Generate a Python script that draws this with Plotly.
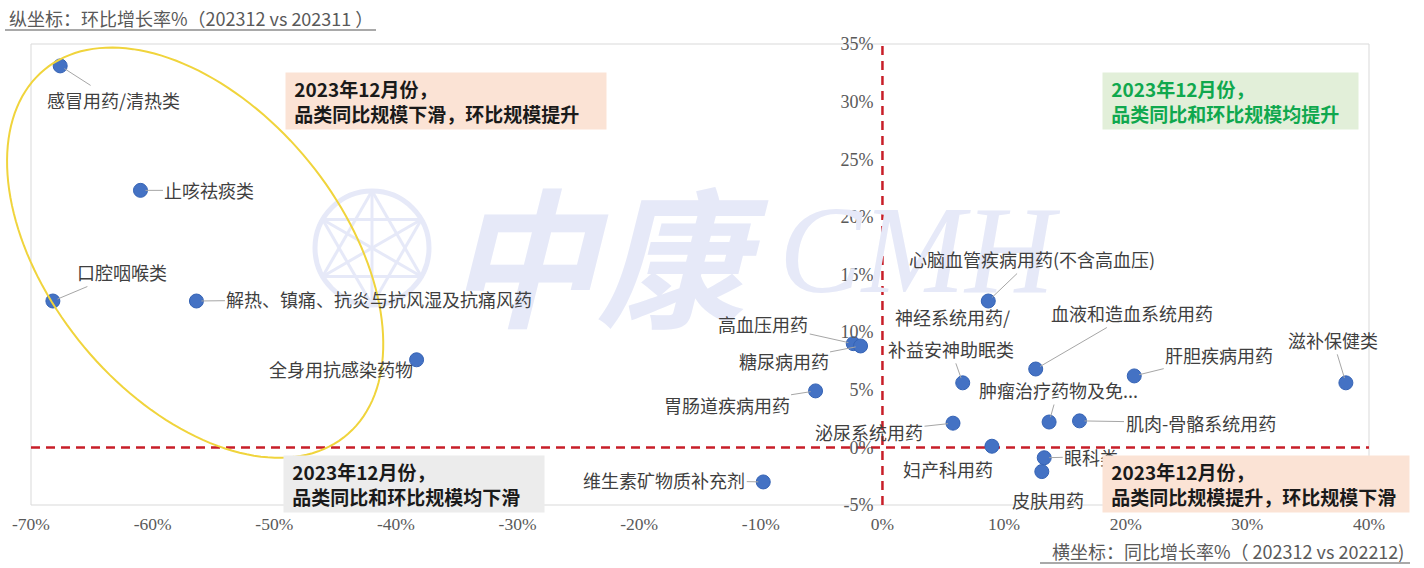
import numpy as np
import plotly.graph_objects as go

# 品类：同比增长率（x）与环比增长率（y），单位 %
categories = [
    "感冒用药/清热类", "止咳祛痰类", "口腔咽喉类", "解热、镇痛、抗炎与抗风湿及抗痛风药", "全身用抗感染药物",
    "维生素矿物质补充剂", "胃肠道疾病用药", "高血压用药", "糖尿病用药", "心脑血管疾病用药(不含高血压)",
    "神经系统用药/补益安神助眠类", "泌尿系统用药", "妇产科用药", "血液和造血系统用药", "肿瘤治疗药物及免...",
    "肌肉-骨骼系统用药", "眼科类", "皮肤用药", "肝胆疾病用药", "滋补保健类",
]
yoy_growth = [-67.6, -61.0, -68.2, -56.4, -38.3, -9.8, -5.5, -2.4, -1.8, 8.7,
              6.6, 5.8, 9.0, 12.6, 13.7, 16.2, 13.3, 13.1, 20.7, 38.1]
mom_growth = [33.1, 22.3, 12.7, 12.7, 7.6, -3.0, 4.9, 9.0, 8.8, 12.7,
              5.6, 2.1, 0.1, 6.8, 2.2, 2.3, -0.9, -2.1, 6.2, 5.6]

x_ticks = list(range(-70, 41, 10))
y_ticks = list(range(-5, 36, 5))

# 标签相对数据点的像素偏移 (ax, ay, 是否画引线)
label_offsets = {
    "感冒用药/清热类": (53, 34, True),
    "止咳祛痰类": (69, 0, True),
    "口腔咽喉类": (69, -29, True),
    "解热、镇痛、抗炎与抗风湿及抗痛风药": (183, -2, True),
    "全身用抗感染药物": (-76, 9, False),
    "维生素矿物质补充剂": (-99, -2, True),
    "胃肠道疾病用药": (-89, 14, True),
    "高血压用药": (-90, -20, True),
    "糖尿病用药": (-77, 15, True),
    "心脑血管疾病用药(不含高血压)": (44, -42, True),
    "泌尿系统用药": (-84, 9, True),
    "妇产科用药": (-44, 23, False),
    "血液和造血系统用药": (96, -56, True),
    "肿瘤治疗药物及免...": (9, -32, True),
    "肌肉-骨骼系统用药": (121, 2, True),
    "眼科类": (47, -1, True),
    "皮肤用药": (6, 28, False),
    "肝胆疾病用药": (85, -21, True),
    "滋补保健类": (-13, -43, True),
}

W, H = 1424, 568
ML, MR, MT, MB = 31, 55, 44, 63
PW, PH = W - ML - MR, H - MT - MB
X_RANGE = (-70, 40)
Y_RANGE = (-5, 35)


def px2x(p):
    return X_RANGE[0] + (p - ML) / PW * (X_RANGE[1] - X_RANGE[0])


def py2y(p):
    return Y_RANGE[1] - (p - MT) / PH * (Y_RANGE[1] - Y_RANGE[0])


def px2paper(p):
    return (p - ML) / PW


def py2paper(p):
    return 1 - (p - MT) / PH


def ellipse_through(points, n=160):
    """Fit a conic through pixel points and return the outline of the ellipse."""
    pts = np.asarray(points, dtype=float)
    c0 = pts.mean(axis=0)
    s = 100.0
    u, v = (pts[:, 0] - c0[0]) / s, (pts[:, 1] - c0[1]) / s
    A_mat = np.column_stack([u * u, u * v, v * v, u, v])
    a, b, c, d, e = np.linalg.lstsq(A_mat, np.ones(len(u)), rcond=None)[0]
    M = np.array([[a, b / 2], [b / 2, c]])
    ctr = np.linalg.solve(2 * M, [-d, -e])
    f = ctr @ M @ ctr + d * ctr[0] + e * ctr[1] - 1
    w, V = np.linalg.eigh(M / -f)
    t = np.linspace(0, 2 * np.pi, n)
    circ = np.vstack([np.cos(t) / np.sqrt(w[0]), np.sin(t) / np.sqrt(w[1])])
    out = V @ circ + ctr[:, None]
    return out[0] * s + c0[0], out[1] * s + c0[1]


CJK = "Noto Sans CJK SC"
SERIF = "Liberation Serif"
LABEL_COLOR = "#3f3f3f"
WM_COLOR = "#e6e9f8"
NB = "\u00a0"

fig = go.Figure()

fig.add_trace(go.Scatter(
    x=yoy_growth, y=mom_growth, mode="markers",
    marker=dict(size=14, color="#4472c4", line=dict(width=1, color="#3563b5")),
    text=categories, hoverinfo="text+x+y",
))

shapes = []
annotations = []

# 绘图区浅灰边框
shapes.append(dict(type="rect", xref="paper", yref="paper", x0=0, x1=1, y0=0, y1=1,
                   line=dict(color="#d9d9d9", width=1), layer="below"))

# 水印：圆形标志
cx, cy, r = 372, 248, 57
shapes.append(dict(type="circle", xref="x", yref="y",
                   x0=px2x(cx - r), x1=px2x(cx + r), y0=py2y(cy + r), y1=py2y(cy - r),
                   line=dict(color=WM_COLOR, width=5), layer="below"))
rim = [(cx + r * np.cos(np.radians(90 + 60 * k)), cy - r * np.sin(np.radians(90 + 60 * k))) for k in range(6)]
for k in range(6):
    for j in (k + 2, k + 3):
        if j == k + 3 and k >= 3:
            continue
        p0, p1 = rim[k], rim[j % 6]
        shapes.append(dict(type="line", xref="x", yref="y",
                           x0=px2x(p0[0]), y0=py2y(p0[1]), x1=px2x(p1[0]), y1=py2y(p1[1]),
                           line=dict(color=WM_COLOR, width=3), layer="below"))

# 黄色椭圆圈出感冒季相关品类（paper 坐标，可超出绘图区）
ring_px = [(107, 45), (60, 65), (6, 190), (53, 300), (296, 458), (385, 340), (378, 300), (378, 373)]
ex, ey = ellipse_through(ring_px)
path = "M " + " L ".join(f"{px2paper(a):.5f},{py2paper(b):.5f}" for a, b in zip(ex, ey)) + " Z"
shapes.append(dict(type="path", xref="paper", yref="paper", path=path,
                   line=dict(color="#f0d43c", width=2), layer="above"))

# 红色虚线分隔四个象限
shapes.append(dict(type="line", xref="x", yref="y", x0=X_RANGE[0], x1=X_RANGE[1], y0=0, y1=0,
                   line=dict(color="#c81e28", width=2.5, dash="9px,6px"), layer="below"))
shapes.append(dict(type="line", xref="x", yref="y", x0=0, x1=0, y0=Y_RANGE[0], y1=Y_RANGE[1],
                   line=dict(color="#c81e28", width=2.5, dash="9px,6px"), layer="below"))

# 水印文字
annotations.append(dict(xref="paper", yref="paper", x=px2paper(607), y=py2paper(250),
                        text="中康", showarrow=False, xanchor="center", yanchor="middle",
                        font=dict(family=CJK, size=150, color=WM_COLOR, weight="bold", style="italic")))
annotations.append(dict(xref="paper", yref="paper", x=px2paper(920), y=py2paper(250),
                        text="CMH", showarrow=False, xanchor="center", yanchor="middle",
                        font=dict(family=SERIF, size=124, color=WM_COLOR, style="italic")))

# 数据点标签
LABEL_FONT = dict(family=CJK, size=18, color=LABEL_COLOR)
for name, xv, yv in zip(categories, yoy_growth, mom_growth):
    if name == "神经系统用药/补益安神助眠类":
        annotations.append(dict(x=xv, y=yv, text="神经系统用药/", showarrow=True, ax=-10, ay=-66,
                                arrowcolor="rgba(0,0,0,0)", arrowwidth=1, arrowhead=0,
                                font=LABEL_FONT))
        annotations.append(dict(x=xv, y=yv, text="补益安神助眠类", showarrow=True, ax=-12, ay=-34,
                                arrowcolor="#a6a6a6", arrowwidth=1, arrowhead=0, standoff=5,
                                font=LABEL_FONT))
        continue
    ax, ay, lead = label_offsets[name]
    annotations.append(dict(x=xv, y=yv, text=name, showarrow=True, ax=ax, ay=ay,
                            arrowcolor="#a6a6a6" if lead else "rgba(0,0,0,0)",
                            arrowwidth=1, arrowhead=0, standoff=5, font=LABEL_FONT))

# 象限说明框
boxes = [
    (285, 72, 312, "2023年12月份，", "品类同比规模下滑，环比规模提升", "#fbe3d5", "#1a1a1a"),
    (1102, 72, 247, "2023年12月份，", "品类同比和环比规模均提升", "#e2efd9", "#10a84e"),
    (283, 455, 252, "2023年12月份，", "品类同比和环比规模均下滑", "#ececec", "#1a1a1a"),
    (1102, 455, 298, "2023年12月份，", "品类同比规模提升，环比规模下滑", "#fbe3d5", "#1a1a1a"),
]
for left, top, width, line1, line2, bg, fc in boxes:
    annotations.append(dict(xref="paper", yref="paper", x=px2paper(left), y=py2paper(top),
                            xanchor="left", yanchor="top",
                            text=f"<b>{NB}{line1}<br>{NB}{line2}</b>", showarrow=False,
                            align="left", width=width, height=48, borderpad=4, bgcolor=bg,
                            font=dict(family=CJK, size=19, color=fc)))

# 坐标轴说明
annotations.append(dict(xref="paper", yref="paper", x=px2paper(7), y=py2paper(18),
                        xanchor="left", yanchor="middle", showarrow=False,
                        text="纵坐标：环比增长率%（202312 vs 202311 ）",
                        font=dict(family=CJK, size=18, color="#595959")))
annotations.append(dict(xref="paper", yref="paper", x=px2paper(1406), y=py2paper(551),
                        xanchor="right", yanchor="middle", showarrow=False,
                        text="横坐标：同比增长率%（ 202312 vs 202212)",
                        font=dict(family=CJK, size=18, color="#595959")))
shapes.append(dict(type="line", xref="paper", yref="paper", x0=px2paper(5), x1=px2paper(376),
                   y0=py2paper(30), y1=py2paper(30), line=dict(color="#8c8c8c", width=1.5)))
shapes.append(dict(type="line", xref="paper", yref="paper", x0=px2paper(1040), x1=px2paper(1410),
                   y0=py2paper(563), y1=py2paper(563), line=dict(color="#8c8c8c", width=1.5)))

fig.update_layout(
    width=W, height=H,
    margin=dict(l=ML, r=MR, t=MT, b=MB, autoexpand=False),
    plot_bgcolor="white", paper_bgcolor="white",
    showlegend=False,
    shapes=shapes, annotations=annotations,
    xaxis=dict(range=list(X_RANGE), tickvals=x_ticks, ticktext=[f"{v}%" for v in x_ticks],
               showgrid=False, zeroline=False, showline=False, ticks="",
               ticklabelstandoff=6,
               tickfont=dict(family=SERIF, size=17.5, color="#595959")),
    yaxis=dict(range=list(Y_RANGE), tickvals=y_ticks, ticktext=[f"{v}%" for v in y_ticks],
               anchor="free", position=(0 - X_RANGE[0]) / (X_RANGE[1] - X_RANGE[0]),
               showgrid=False, zeroline=False, showline=False, ticks="",
               ticklabelstandoff=9,
               tickfont=dict(family=SERIF, size=18, color="#595959")),
)

fig.write_html("out.html")
